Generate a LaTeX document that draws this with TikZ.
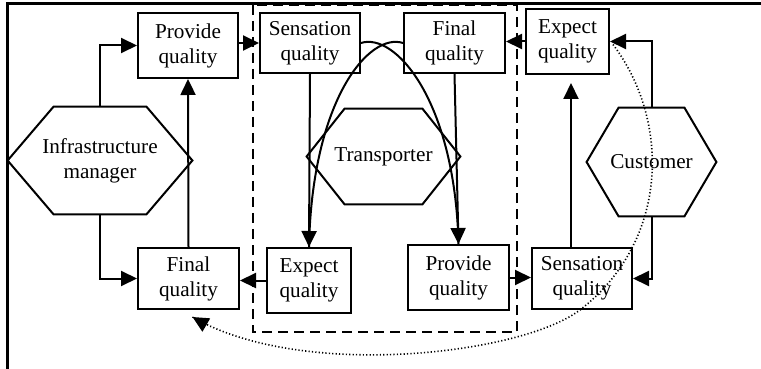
\documentclass[tikz,border=0pt]{standalone}
\usepackage{fontspec}
\setmainfont{Liberation Serif}
\usetikzlibrary{arrows.meta,calc}
\tikzset{
  lbl/.style={font=\fontsize{10.6pt}{12.5pt}\selectfont, align=center, inner sep=0pt},
  qbox/.style={lbl, draw, line width=1pt},
  hexnode/.style={lbl},
  conn/.style={line width=1pt},
  tip/.style={-{Triangle[length=8pt,width=7.5pt]}},
  arr/.style={conn, tip},
  dotline/.style={line width=0.8pt, dash pattern=on 0.6pt off 1.1pt},
  dashbox/.style={line width=1pt, dash pattern=on 5pt off 3pt},
}
\newcommand\hexdraw[2]{\draw[conn] (#1.west) -- ($(#1.north west)+(#2,0)$) -- ($(#1.north east)+(-#2,0)$) -- (#1.east) -- ($(#1.south east)+(-#2,0)$) -- ($(#1.south west)+(#2,0)$) -- cycle;}
\begin{document}
\begin{tikzpicture}[x=0.5pt,y=-0.5pt]
\useasboundingbox (0,0) rectangle (761,369);
% frame
\draw[line width=1.1pt] (7.5,369) -- (7.5,3.5) -- (761,3.5);
% dashed box
\draw[dashbox] (253,5) rectangle (517,332);
% boxes
\node[qbox, minimum width=50pt, minimum height=32.5pt] (pq1) at (188,45.5) {Provide\\quality};
\node[qbox, minimum width=50pt, minimum height=30pt] (sq1) at (310,43) {Sensation\\quality};
\node[qbox, minimum width=50.5pt, minimum height=30pt] (fq1) at (454.5,43) {Final\\quality};
\node[qbox, minimum width=41.5pt, minimum height=32.5pt] (eq2) at (567.5,41.5) {Expect\\quality};
\node[qbox, minimum width=50.5pt, minimum height=30.5pt] (fq2) at (188.5,278.5) {Final\\quality};
\node[qbox, minimum width=42pt, minimum height=32.5pt] (eq1) at (309,280.5) {Expect\\quality};
\node[qbox, minimum width=50.5pt, minimum height=32.5pt] (pq2) at (458.5,277.5) {Provide\\quality};
\node[qbox, minimum width=50pt, minimum height=30.5pt] (sq2) at (582,278.5) {Sensation\\quality};
% hexagons
\node[hexnode, minimum width=92pt, minimum height=53.5pt] (infra) at (100,160.5) {Infrastructure\\manager};
\hexdraw{infra}{46}
\node[hexnode, minimum width=76.5pt, minimum height=47.5pt] (trans) at (383.5,156.5) {Transporter};
\hexdraw{trans}{38}
\node[hexnode, minimum width=64.5pt, minimum height=54pt] (cust) at (651.5,162) {Customer};
\hexdraw{cust}{32}
% connectors left
\draw[arr] (infra.north) |- (pq1.west);
\draw[arr] (infra.south) |- (fq2.west);
\draw[arr] (fq2.north) -- (pq1.south);
\draw[arr] (pq1.east |- sq1.west) -- (sq1.west);
\draw[arr] (eq1.west) -- (eq1.west -| fq2.east);
% transporter internals
\draw[conn] (sq1.east) .. controls (395,32) and (455,100) .. (pq2.north);
\draw[conn] (fq1.west) .. controls (369,32) and (312,100) .. (eq1.north);
\draw[arr] (sq1.south) -- (eq1.north);
\draw[arr] (fq1.south) -- (pq2.north);
\draw[arr] (pq2.east) -- (pq2.east -| sq2.west);
\draw[arr] (eq2.west) -- (eq2.west -| fq1.east);
% customer side
\coordinate (up) at ($(sq2.north)+(-11,0)$);
\draw[arr, shorten >=4pt] (up) -- (up |- eq2.south);
\draw[arr] (cust.north) |- (eq2.east);
\draw[arr] (cust.south) |- (sq2.east);
% dotted relation
\coordinate (dtop) at ($(eq2.east)+(3,3)$);
\coordinate (dmid) at ($(sq2.south)+(-2,0)$);
\coordinate (dbot) at ($(fq2.south)+(4,7)$);
\draw[dotline] (dtop) .. controls (670,120) and (670,240) .. (dmid) .. controls (520,355) and (300,380) .. (dbot);
\draw[conn, tip] ($(dbot)+(8.6,5)$) -- (dbot);
\end{tikzpicture}
\end{document}
